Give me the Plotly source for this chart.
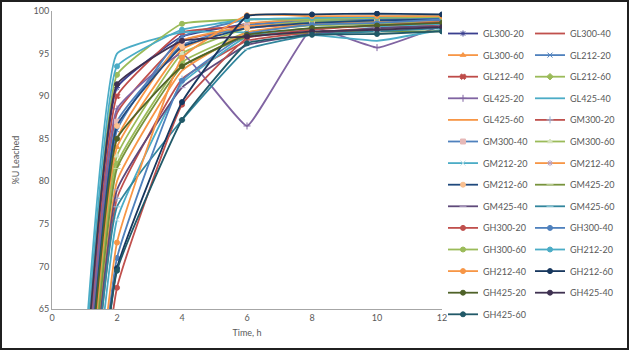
import plotly.graph_objects as go

# Sampling times (h)
time_h = [0, 2, 4, 6, 8, 10, 12]

# Uranium leached (%) per sample
series_names = [
    "GL300-20", "GL300-40", "GL300-60", "GL212-20", "GL212-40", "GL212-60",
    "GL425-20", "GL425-40", "GL425-60", "GM300-20", "GM300-40", "GM300-60",
    "GM212-20", "GM212-40", "GM212-60", "GM425-20", "GM425-40", "GM425-60",
    "GH300-20", "GH300-40", "GH300-60", "GH212-20", "GH212-40", "GH212-60",
    "GH425-20", "GH425-40", "GH425-60",
]

gl300_20 = [0, 91.0, 97.0, 98.5, 99.0, 99.0, 99.2]
gl300_40 = [0, 88.0, 96.5, 98.0, 98.5, 98.5, 98.8]
gl300_60 = [0, 84.0, 95.5, 98.5, 99.0, 99.0, 99.0]
gl212_20 = [0, 86.0, 97.0, 99.0, 99.0, 99.2, 99.3]
gl212_40 = [0, 90.0, 97.5, 98.2, 98.5, 98.6, 98.8]
gl212_60 = [0, 82.0, 94.0, 97.5, 98.3, 98.5, 98.7]
gl425_20 = [0, 88.5, 95.0, 86.5, 98.0, 95.7, 98.3]
gl425_40 = [0, 95.0, 97.5, 97.5, 97.2, 96.5, 97.8]
gl425_60 = [0, 80.0, 93.0, 97.5, 98.5, 98.8, 99.0]
gm300_20 = [0, 78.0, 92.0, 96.5, 97.5, 98.0, 98.4]
gm300_40 = [0, 87.0, 96.0, 98.3, 98.8, 99.0, 99.1]
gm300_60 = [0, 83.0, 95.0, 98.0, 98.8, 98.8, 98.9]
gm212_20 = [0, 75.5, 91.5, 97.0, 98.0, 98.2, 98.5]
gm212_40 = [0, 85.0, 96.5, 98.2, 98.5, 98.7, 98.9]
gm212_60 = [0, 86.5, 95.8, 98.0, 98.6, 98.9, 99.0]
gm425_20 = [0, 81.5, 93.5, 97.0, 97.5, 97.6, 97.6]
gm425_40 = [0, 79.0, 91.0, 96.0, 97.3, 98.0, 98.2]
gm425_60 = [0, 77.0, 87.2, 95.5, 97.2, 97.6, 98.0]
gh300_20 = [0, 67.5, 89.0, 96.8, 97.8, 98.3, 98.7]
gh300_40 = [0, 71.0, 91.8, 97.3, 98.4, 98.6, 99.0]
gh300_60 = [0, 92.5, 98.5, 99.0, 99.0, 99.2, 99.3]
gh212_20 = [0, 93.5, 97.8, 99.0, 99.2, 99.3, 99.5]
gh212_40 = [0, 72.8, 94.5, 99.5, 99.4, 99.4, 99.4]
gh212_60 = [0, 69.8, 89.3, 99.4, 99.6, 99.7, 99.6]
gh425_20 = [0, 85.0, 93.5, 97.2, 98.0, 98.3, 98.6]
gh425_40 = [0, 91.4, 96.5, 97.0, 97.6, 97.8, 98.1]
gh425_60 = [0, 69.5, 87.2, 96.2, 97.2, 97.3, 97.6]

series_values = [
    gl300_20, gl300_40, gl300_60, gl212_20, gl212_40, gl212_60,
    gl425_20, gl425_40, gl425_60, gm300_20, gm300_40, gm300_60,
    gm212_20, gm212_40, gm212_60, gm425_20, gm425_40, gm425_60,
    gh300_20, gh300_40, gh300_60, gh212_20, gh212_40, gh212_60,
    gh425_20, gh425_40, gh425_60,
]

# Line colour, marker symbol, marker colour per series
styles = [
    ("#3A3F8F", "asterisk-open", "#3A3F8F"),
    ("#C0504D", None, "#C0504D"),
    ("#F79646", "triangle-up", "#F79646"),
    ("#4F81BD", "x-thin-open", "#4F81BD"),
    ("#BE4B48", "x", "#BE4B48"),
    ("#9BBB59", "diamond", "#9BBB59"),
    ("#8064A2", "cross-thin-open", "#8064A2"),
    ("#4BACC6", None, "#4BACC6"),
    ("#F79646", None, "#F79646"),
    ("#C0504D", "cross-thin-open", "#95B3D7"),
    ("#4F81BD", "square", "#E6B9B8"),
    ("#9BBB59", "triangle-up", "#D7E4BD"),
    ("#4BACC6", "x-thin-open", "#B7DEE8"),
    ("#F79646", "asterisk-open", "#B3A2C7"),
    ("#1F497D", "circle", "#FAC090"),
    ("#77933C", "line-ew-open", "#C3D69B"),
    ("#5F497A", "line-ew-open", "#B3A2C7"),
    ("#31859C", "line-ew-open", "#93CDDD"),
    ("#C0504D", "circle", "#C0504D"),
    ("#4F81BD", "circle", "#4F81BD"),
    ("#9BBB59", "circle", "#9BBB59"),
    ("#4BACC6", "circle", "#4BACC6"),
    ("#F79646", "circle", "#F79646"),
    ("#17375E", "circle", "#17375E"),
    ("#4F6228", "circle", "#4F6228"),
    ("#3F3151", "circle", "#3F3151"),
    ("#215968", "circle", "#215968"),
]

W, H = 629, 350
L, R, T, B = 52, 187, 11, 41
pw, ph = W - L - R, H - T - B

def px_x(p):
    return (p - L) / pw

def px_y(p):
    return (H - B - p) / ph

font = "Lato, 'Open Sans', sans-serif"
grey = "#595959"

fig = go.Figure()
for i, (name, vals, (lc, sym, mc)) in enumerate(zip(series_names, series_values, styles)):
    marker = dict(size=5, color=mc, symbol=sym or "circle",
                  line=dict(color=mc, width=1))
    fig.add_trace(go.Scatter(
        x=time_h, y=vals, name=name,
        mode="lines+markers" if sym else "lines",
        line=dict(color=lc, width=1.8, shape="spline", smoothing=0.3),
        marker=marker,
        legend="legend" if i % 2 == 0 else "legend2",
        legendgroup=name,
    ))

# Two legend columns placed in container (pixel-fraction) coordinates
legend_common = dict(
    orientation="v", xanchor="left", yanchor="top",
    xref="container", yref="container", maxheight=340,
    font=dict(size=9, color=grey), bgcolor="rgba(0,0,0,0)",
    traceorder="grouped", tracegroupgap=2.6, itemwidth=30,
)

fig.update_layout(
    width=W, height=H,
    margin=dict(l=L, r=R, t=T, b=B, autoexpand=False),
    paper_bgcolor="white", plot_bgcolor="white",
    font=dict(family=font, size=10, color=grey),
    showlegend=True,
    legend=dict(x=443 / W, y=1 - 19 / H, **legend_common),
    legend2=dict(x=530 / W, y=1 - 19 / H, **legend_common),
    xaxis=dict(
        range=[0, 12], tickvals=[0, 2, 4, 6, 8, 10, 12],
        showgrid=False, zeroline=False, showline=True,
        linecolor="#A6A6A6", linewidth=1, ticks="",
        tickfont=dict(size=9, color=grey),
        title=dict(text="Time, h", font=dict(size=9, color=grey), standoff=7),
    ),
    yaxis=dict(
        range=[65, 100], tickvals=[65, 70, 75, 80, 85, 90, 95, 100],
        showgrid=False, zeroline=False, showline=True,
        linecolor="#A6A6A6", linewidth=1, ticks="",
        tickfont=dict(size=9, color=grey),
        title=dict(text="%U Leached", font=dict(size=9, color=grey), standoff=12),
    ),
    shapes=[dict(
        type="rect", xref="paper", yref="paper",
        x0=px_x(1), x1=px_x(628), y0=px_y(349), y1=px_y(1),
        line=dict(color="#202020", width=2), layer="above",
    )],
)

fig.write_html("out.html")
